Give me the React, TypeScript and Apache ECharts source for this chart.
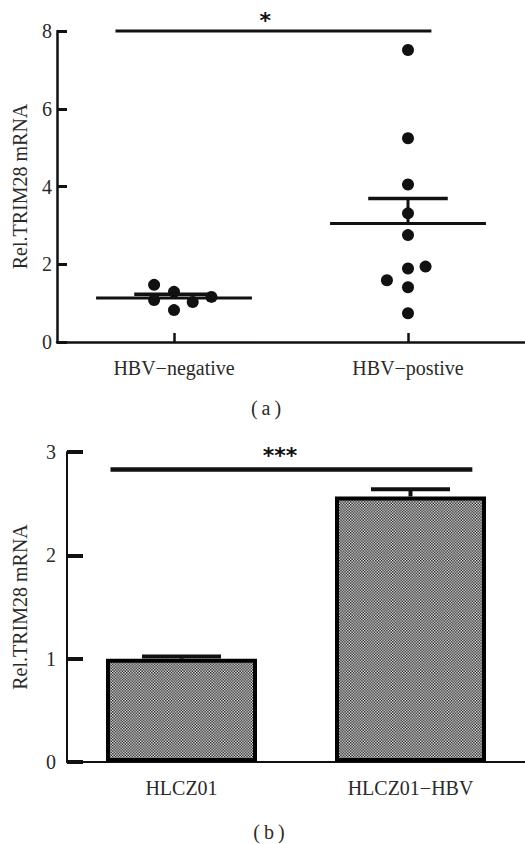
import React, { useEffect, useRef } from "react";
import * as echarts from "echarts";

// ---- Panel (a): scatter ----
const scatterCategories = ["HBV\u2212negative", "HBV\u2212postive"];
const negativeValues = [1.47, 1.29, 1.08, 0.82, 1.03, 1.16];
const negativeJitter = [-0.085, 0, -0.085, 0, 0.08, 0.16];
const positiveValues = [7.51, 5.24, 4.05, 3.31, 2.75, 1.89, 1.94, 1.59, 1.41, 0.74];
const positiveJitter = [0, 0, 0, 0, 0, 0, 0.075, -0.09, 0, 0];
const groupMeans = [1.13, 3.05];
const groupSEM = [0.1, 0.64];
const sigA = [-0.25, 1.1, 8, 0.39]; // from, to, y, star x
const yTicksA = [0, 8, 2]; // min, max, interval

// ---- Panel (b): bars ----
const barCategories = ["HLCZ01", "HLCZ01\u2212HBV"];
const barValues = [1.0, 2.57];
const barSEM = [0.02, 0.07];
const sigB = [-0.31, 1.27, 2.83, 0.43];
const yTicksB = [0, 3, 1];

const FONT = "'Liberation Serif', 'Times New Roman', 'DejaVu Serif', serif";
const TEXT = "#2a2a2a";
const INK = "#111";

export default function App() {
  const ref = useRef<HTMLDivElement>(null);
  useEffect(() => {
    if (!ref.current) return;
    const chart = echarts.init(ref.current, null, { renderer: "svg" });

    const cv = document.createElement("canvas");
    cv.width = 2;
    cv.height = 2;
    const ctx = cv.getContext("2d")!;
    ctx.fillStyle = "#f4f4f4";
    ctx.fillRect(0, 0, 2, 2);
    ctx.fillStyle = "#111";
    ctx.fillRect(0, 0, 1, 1);
    ctx.fillRect(1, 1, 1, 1);
    const pattern: any = { image: cv, repeat: "repeat", scaleX: 1.4, scaleY: 1.4 };

    const scatterData: number[][] = [];
    negativeValues.forEach((v, i) => scatterData.push([0 + negativeJitter[i], v]));
    positiveValues.forEach((v, i) => scatterData.push([1 + positiveJitter[i], v]));

    const meanData = groupMeans.map((m, i) => [i, m, groupSEM[i]]);
    const barErrData = barValues.map((v, i) => [i, v, barSEM[i]]);

    const sigRender = (lw: number, starFont: string, starOffset: number) =>
      (params: any, api: any) => {
        const a = api.coord([api.value(0), api.value(2)]);
        const b = api.coord([api.value(1), api.value(2)]);
        const s = api.coord([api.value(3), api.value(2)]);
        return {
          type: "group",
          children: [
            {
              type: "line",
              shape: { x1: a[0], y1: a[1], x2: b[0], y2: b[1] },
              style: { stroke: INK, lineWidth: lw },
            },
            {
              type: "text",
              style: {
                text: api.value(4) as any,
                x: s[0],
                y: s[1] - starOffset,
                fill: INK,
                font: starFont,
                align: "center",
                verticalAlign: "middle",
              },
            },
          ],
        };
      };

    const labelStyle = { color: TEXT, fontFamily: FONT, fontSize: 20 };

    const option: any = {
      animation: false,
      backgroundColor: "#fff",
      textStyle: { fontFamily: FONT },
      grid: [
        { left: 57, top: 31, right: 0, height: 311 },
        { left: 67, top: 452, right: 0, height: 310 },
      ],
      xAxis: [
        {
          type: "category",
          gridIndex: 0,
          data: scatterCategories,
          axisLine: { onZero: false, lineStyle: { color: INK, width: 2.5 } },
          axisTick: { show: true, inside: true, alignWithLabel: true, length: 9, lineStyle: { color: INK, width: 2.5 } },
          axisLabel: { ...labelStyle, margin: 16 },
          splitLine: { show: false },
        },
        { type: "value", gridIndex: 0, min: -0.5, max: 1.5, show: false },
        {
          type: "category",
          gridIndex: 1,
          data: barCategories,
          axisLine: { onZero: false, lineStyle: { color: INK, width: 2 } },
          axisTick: { show: false },
          axisLabel: { ...labelStyle, margin: 16 },
        },
        { type: "value", gridIndex: 1, min: -0.5, max: 1.5, show: false },
      ],
      yAxis: [
        {
          type: "value",
          gridIndex: 0,
          min: yTicksA[0],
          max: yTicksA[1],
          interval: yTicksA[2],
          name: "Rel.TRIM28 mRNA",
          nameLocation: "middle",
          nameRotate: 90,
          nameGap: 27,
          nameTextStyle: labelStyle,
          axisLine: { show: true, onZero: false, lineStyle: { color: INK, width: 2.5 } },
          axisTick: { show: true, inside: true, length: 10, lineStyle: { color: INK, width: 3 } },
          axisLabel: { ...labelStyle, margin: 5 },
          splitLine: { show: false },
        },
        {
          type: "value",
          gridIndex: 1,
          min: yTicksB[0],
          max: yTicksB[1],
          interval: yTicksB[2],
          name: "Rel.TRIM28 mRNA",
          nameLocation: "middle",
          nameRotate: 90,
          nameGap: 37,
          nameTextStyle: labelStyle,
          axisLine: { show: true, onZero: false, lineStyle: { color: INK, width: 2 } },
          axisTick: { show: true, inside: true, length: 16, lineStyle: { color: INK, width: 4 } },
          axisLabel: { ...labelStyle, margin: 11 },
          splitLine: { show: false },
        },
      ],
      series: [
        {
          type: "scatter",
          xAxisIndex: 1,
          yAxisIndex: 0,
          data: scatterData,
          symbolSize: 12,
          itemStyle: { color: INK, opacity: 1 },
          z: 3,
        },
        {
          type: "custom",
          xAxisIndex: 1,
          yAxisIndex: 0,
          data: meanData,
          z: 4,
          renderItem: (params: any, api: any) => {
            const x = api.value(0);
            const m = api.value(1);
            const s = api.value(2);
            const l1 = api.coord([x - 0.333, m]);
            const l2 = api.coord([x + 0.333, m]);
            const c1 = api.coord([x - 0.17, m + s]);
            const c2 = api.coord([x + 0.17, m + s]);
            const v1 = api.coord([x, m]);
            const v2 = api.coord([x, m + s]);
            const st = { stroke: INK, lineWidth: 3 };
            return {
              type: "group",
              children: [
                { type: "line", shape: { x1: l1[0], y1: l1[1], x2: l2[0], y2: l2[1] }, style: st },
                { type: "line", shape: { x1: c1[0], y1: c1[1], x2: c2[0], y2: c2[1] }, style: { stroke: INK, lineWidth: 3.5 } },
                { type: "line", shape: { x1: v1[0], y1: v1[1], x2: v2[0], y2: v2[1] }, style: st },
              ],
            };
          },
        },
        {
          type: "custom",
          xAxisIndex: 1,
          yAxisIndex: 0,
          clip: false,
          data: [[sigA[0], sigA[1], sigA[2], sigA[3], "*"]],
          renderItem: sigRender(3, "bold 22px DejaVu Sans", 11),
        },
        {
          type: "bar",
          xAxisIndex: 2,
          yAxisIndex: 1,
          data: barValues,
          barWidth: 151,
          itemStyle: { color: pattern, borderColor: "#000", borderWidth: 4 },
          z: 2,
        },
        {
          type: "custom",
          xAxisIndex: 3,
          yAxisIndex: 1,
          data: barErrData,
          z: 1,
          renderItem: (params: any, api: any) => {
            const x = api.value(0);
            const v = api.value(1);
            const s = api.value(2);
            const c1 = api.coord([x - 0.1725, v + s]);
            const c2 = api.coord([x + 0.1725, v + s]);
            const v1 = api.coord([x, v]);
            const v2 = api.coord([x, v + s]);
            const st = { stroke: INK, lineWidth: 4 };
            return {
              type: "group",
              children: [
                { type: "line", shape: { x1: c1[0], y1: c1[1], x2: c2[0], y2: c2[1] }, style: st },
                { type: "line", shape: { x1: v1[0], y1: v1[1], x2: v2[0], y2: v2[1] }, style: st },
              ],
            };
          },
        },
        {
          type: "custom",
          xAxisIndex: 3,
          yAxisIndex: 1,
          clip: false,
          data: [[sigB[0], sigB[1], sigB[2], sigB[3], "***"]],
          renderItem: sigRender(4.5, "bold 22px DejaVu Sans", 14),
        },
      ],
      graphic: [
        {
          type: "text",
          x: 266,
          y: 408,
          style: { text: "(\u2009a\u2009)", fill: TEXT, font: `20px ${FONT}`, align: "center", verticalAlign: "middle" },
        },
        {
          type: "text",
          x: 269,
          y: 832,
          style: { text: "(\u2009b\u2009)", fill: TEXT, font: `20px ${FONT}`, align: "center", verticalAlign: "middle" },
        },
      ],
    };
    chart.setOption(option);
    return () => chart.dispose();
  }, []);
  return (
    <div
      ref={ref}
      style={{ position: "absolute", left: 0, top: 0, width: 525, height: 844, background: "#fff" }}
    />
  );
}
